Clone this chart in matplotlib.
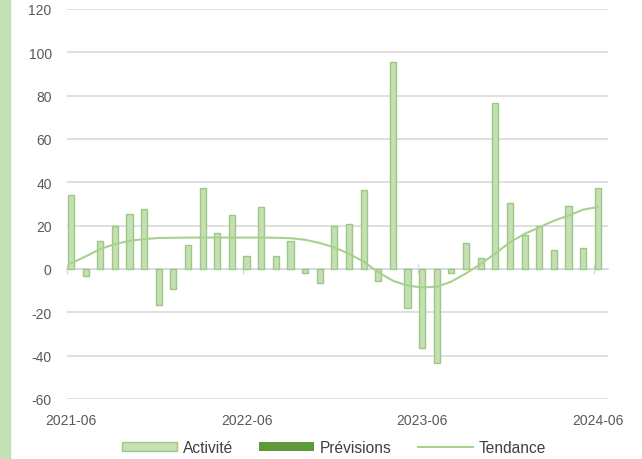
import numpy as np
import matplotlib
matplotlib.use("Agg")
import matplotlib.pyplot as plt

plt.rcParams["font.family"] = ["Liberation Sans", "DejaVu Sans"]
plt.rcParams["axes.unicode_minus"] = False

months = [f"{2021 + (5 + i) // 12}-{(5 + i) % 12 + 1:02d}" for i in range(37)]
activite = [34.3, -3, 13.1, 20, 25.4, 27.7, -16.6, -9.2, 11.2, 37.2,
            16.6, 25, 5.8, 28.8, 5.8, 12.8, -2, -6.5, 19.7, 20.8,
            36.6, -5.7, 95.4, -17.8, -36.6, -43.5, -2, 11.8, 4.9, 76.5,
            30.5, 15.7, 20, 8.8, 28.9, 9.7, 37.4]
previsions = [np.nan] * 37
tendance = [2.6, 5.8, 9.2, 11.5, 13, 13.8, 14.3, 14.4, 14.5, 14.5,
            14.5, 14.5, 14.5, 14.5, 14.4, 14.2, 13.5, 12, 10, 7,
            3.4, -1.5, -5.4, -7.7, -8.5, -8.2, -5.8, -2, 2.3, 7.2,
            12.3, 16.2, 19.2, 22.3, 24.6, 27.4, 28.6]
tick_idx = [0, 12, 24, 36]

x = np.arange(len(months))

fig = plt.figure(figsize=(6.42, 4.6), dpi=100)
fig.patches.append(plt.Rectangle((0, 0), 10 / 642, 1, transform=fig.transFigure,
                                 color="#C5E0B4", zorder=0))
ax = fig.add_axes([67 / 642, 60 / 460, 541 / 642, 390 / 460])

b1 = ax.bar(x, activite, width=0.42, color="#C5E0B4", edgecolor="#9DC883",
            linewidth=1, label="Activité", zorder=3)
b2 = ax.bar(x, previsions, width=0.42, color="#5E9A3C", label="Prévisions", zorder=3)
l1, = ax.plot(x, tendance, color="#A9D18E", linewidth=1.5, label="Tendance", zorder=4)

ymin, ymax = -60, 120
ax.set_ylim(ymin, ymax)
ax.set_xlim(-0.27, 36.7)
ax.set_yticks(range(-60, 121, 20))
ax.grid(axis="y", color="#D9D9D9", linewidth=1.2, zorder=0)
ax.set_axisbelow(True)
for s in ax.spines.values():
    s.set_visible(False)
ax.tick_params(axis="y", length=0, pad=11, labelsize=10, labelcolor="#595959")
ax.set_xticks(tick_idx)
ax.set_xticklabels([months[i] for i in tick_idx])
ax.tick_params(axis="x", length=0, pad=10, labelsize=10, labelcolor="#595959")

# zero axis line with small tick marks
sec = ax.secondary_xaxis((0 - ymin) / (ymax - ymin))
sec.set_xticks([i - 0.27 for i in tick_idx])
sec.set_xticklabels([])
sec.tick_params(axis="x", direction="inout", length=7, width=1, color="#D9D9D9")
sec.spines["bottom"].set_color("#D9D9D9")
sec.spines["bottom"].set_linewidth(1.2)
sec.spines["top"].set_visible(False)

ax.legend([b1, b2, l1], ["Activité", "Prévisions", "Tendance"],
          loc="upper center", bbox_to_anchor=(0.494, -0.07), ncol=3, frameon=False,
          fontsize=11.2, handlelength=3.5, handleheight=0.55, handletextpad=0.4,
          columnspacing=1.7, labelcolor="#404040")

fig.savefig("out.png", dpi=100)
